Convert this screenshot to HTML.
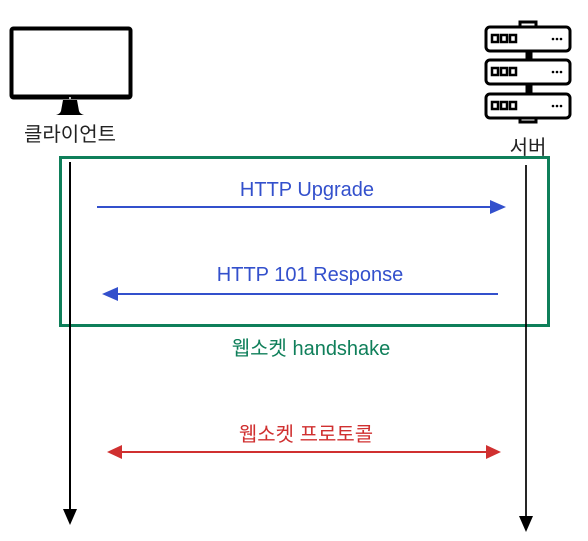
<!DOCTYPE html>
<html><head><meta charset="utf-8"><style>
html,body{margin:0;padding:0;background:#fff;width:588px;height:541px;overflow:hidden}
text{font-family:"Liberation Sans","Noto Sans CJK KR",sans-serif}
</style></head><body>
<svg width="588" height="541" viewBox="0 0 588 541" xmlns="http://www.w3.org/2000/svg">
<!-- monitor -->
<rect x="11.5" y="28.5" width="119" height="69" rx="2" fill="#fff" stroke="#000" stroke-width="4"/>
<line x1="12" y1="96" x2="130" y2="96" stroke="#000" stroke-width="3"/>
<circle cx="70" cy="98" r="1" fill="#fff"/>
<path d="M63 100 L77 100 L79 111 Q80 114 84 115 L56 115 Q60 114 61 111 Z" fill="#000"/>
<text x="70" y="141" font-size="20" text-anchor="middle" fill="#222">클라이언트</text>
<!-- server -->
<g fill="#fff" stroke="#000" stroke-width="3">
<rect x="520" y="22" width="16" height="6"/>
<rect x="520" y="117" width="16" height="5"/>
<rect x="527" y="51" width="4" height="8" fill="#000"/>
<rect x="527" y="84" width="4" height="9" fill="#000"/>
<rect x="486" y="27" width="84" height="24" rx="4"/>
<rect x="486" y="60" width="84" height="24" rx="4"/>
<rect x="486" y="94" width="84" height="24" rx="4"/>
</g>
<g fill="#fff" stroke="#000" stroke-width="2.5">
<rect x="492" y="35" width="6" height="7"/><rect x="501" y="35" width="6" height="7"/><rect x="510" y="35" width="6" height="7"/>
<rect x="492" y="68" width="6" height="7"/><rect x="501" y="68" width="6" height="7"/><rect x="510" y="68" width="6" height="7"/>
<rect x="492" y="102" width="6" height="7"/><rect x="501" y="102" width="6" height="7"/><rect x="510" y="102" width="6" height="7"/>
</g>
<g fill="#000">
<circle cx="553" cy="39" r="1.3"/><circle cx="557" cy="39" r="1.3"/><circle cx="561" cy="39" r="1.3"/>
<circle cx="553" cy="72" r="1.3"/><circle cx="557" cy="72" r="1.3"/><circle cx="561" cy="72" r="1.3"/>
<circle cx="553" cy="106" r="1.3"/><circle cx="557" cy="106" r="1.3"/><circle cx="561" cy="106" r="1.3"/>
</g>
<text x="528" y="154" font-size="20" text-anchor="middle" fill="#222">서버</text>
<!-- green box -->
<rect x="60.5" y="157.5" width="488" height="168" fill="none" stroke="#0f7f5a" stroke-width="3"/>
<!-- lifelines -->
<line x1="70" y1="162" x2="70" y2="511" stroke="#000" stroke-width="2"/>
<polygon points="63,509 77,509 70,525" fill="#000"/>
<line x1="526" y1="165" x2="526" y2="518" stroke="#000" stroke-width="1.7"/>
<polygon points="519,516 533,516 526,532" fill="#000"/>
<!-- blue arrows -->
<line x1="97" y1="207" x2="492" y2="207" stroke="#3350cc" stroke-width="2"/>
<polygon points="490,200 506,207 490,214" fill="#3350cc"/>
<text x="307" y="196" font-size="20" text-anchor="middle" fill="#3350cc">HTTP Upgrade</text>
<line x1="116" y1="294" x2="498" y2="294" stroke="#3350cc" stroke-width="2"/>
<polygon points="118,287 102,294 118,301" fill="#3350cc"/>
<text x="310" y="281" font-size="20" text-anchor="middle" fill="#3350cc">HTTP 101 Response</text>
<text x="311" y="355" font-size="20" text-anchor="middle" fill="#0f7f5a">웹소켓 handshake</text>
<!-- red arrow -->
<line x1="120" y1="452" x2="488" y2="452" stroke="#d03030" stroke-width="2"/>
<polygon points="122,445 107,452 122,459" fill="#d03030"/>
<polygon points="486,445 501,452 486,459" fill="#d03030"/>
<text x="306" y="441" font-size="20" text-anchor="middle" fill="#d03030">웹소켓 프로토콜</text>
</svg>
</body></html>
